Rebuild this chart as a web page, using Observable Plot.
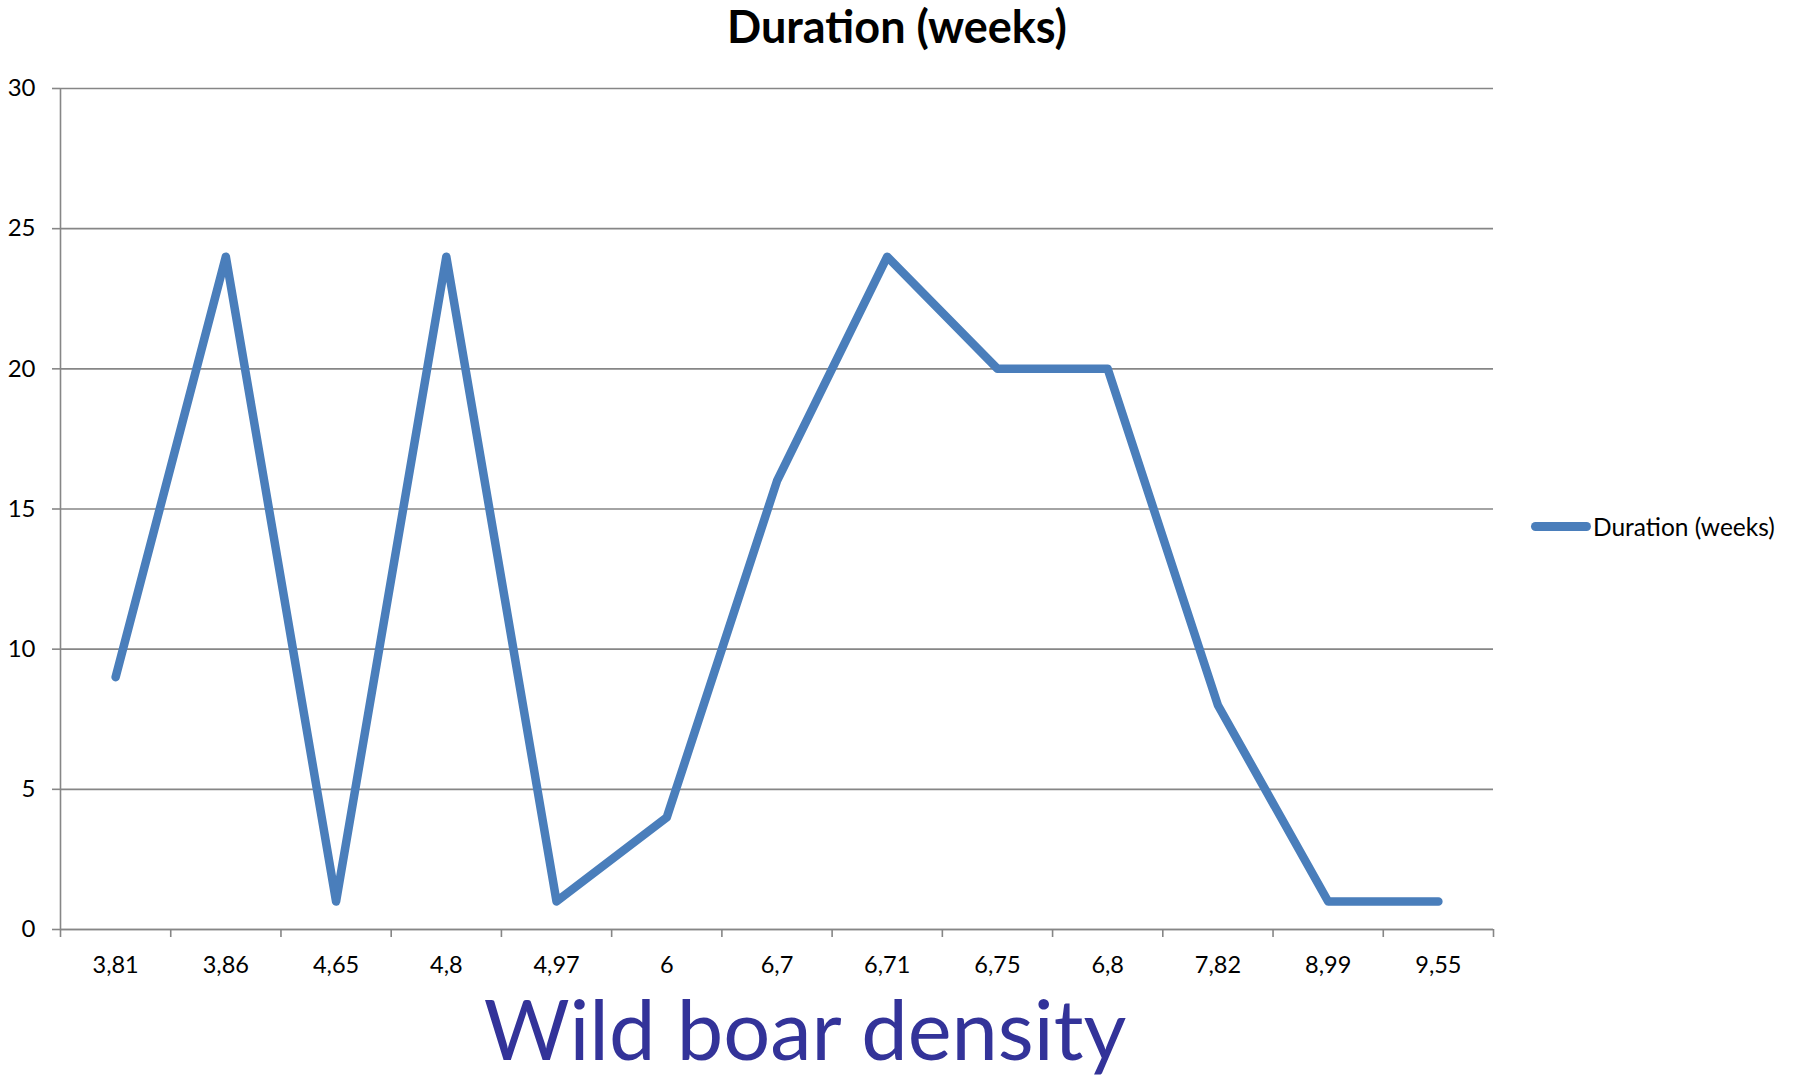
<!DOCTYPE html>
<html>
<head>
<meta charset="utf-8">
<script src="https://cdn.jsdelivr.net/npm/d3@7"></script>
<script src="https://cdn.jsdelivr.net/npm/@observablehq/plot@0.6"></script>
<style>
  html, body { margin: 0; padding: 0; background: #fff; }
  #wrap { position: relative; width: 1797px; height: 1085px; font-family: Lato, "Open Sans", sans-serif; overflow: hidden; }
  #title { position: absolute; left: 0; top: 0; width: 1797px; font-size: 45px; font-weight: bold; color: #000; line-height: 1; }
  #title span { position: absolute; left: 897px; top: 4px; transform: translateX(-50%); white-space: nowrap; }
  #xlabel { position: absolute; top: 987px; left: 805px; transform: translateX(-50%); font-size: 83px; color: #333399; white-space: nowrap; line-height: 1; }
  #legend { position: absolute; left: 1531px; top: 512px; display: flex; align-items: center; font-size: 24.5px; color: #000; white-space: nowrap; }
  #legend .sw { width: 60px; height: 9px; border-radius: 5px; background: #4A7EBB; margin-right: 2px; }
  #chart { position: absolute; left: 0; top: 0; }
</style>
</head>
<body>
<div id="wrap">
  <div id="chart"></div>
  <div id="title"><span>Duration (weeks)</span></div>
  <div id="legend"><div class="sw"></div><span>Duration (weeks)</span></div>
  <div id="xlabel">Wild boar density</div>
</div>
<script>
const categories = ["3,81", "3,86", "4,65", "4,8", "4,97", "6", "6,7", "6,71", "6,75", "6,8", "7,82", "8,99", "9,55"];
const durationWeeks = [9, 24, 1, 24, 1, 4, 16, 24, 20, 20, 8, 1, 1];
const yTicks = [0, 5, 10, 15, 20, 25, 30];

const idx = categories.map((_, i) => i);
const boundaries = d3.range(categories.length + 1).map(i => i - 0.5);
const data = durationWeeks.map((v, i) => ({i, v}));

const chart = Plot.plot({
  width: 1797,
  height: 1085,
  marginLeft: 60,
  marginRight: 304,
  marginTop: 88,
  marginBottom: 156,
  style: {fontFamily: "Lato, 'Open Sans', sans-serif", fontSize: "20px", color: "#000", background: "transparent"},
  x: {type: "linear", domain: [-0.5, categories.length - 0.5]},
  y: {domain: [0, 30]},
  marks: [
    Plot.gridY(yTicks, {stroke: "#868686", strokeOpacity: 1, strokeWidth: 1.6}),
    Plot.axisY(yTicks, {tickSize: 8, tickPadding: 17, stroke: "#868686", strokeWidth: 1.6, fontSize: 24, label: null, fill: "#000"}),
    Plot.ruleX([-0.5], {stroke: "#868686", strokeWidth: 1.6}),
    Plot.ruleY([0], {stroke: "#868686", strokeWidth: 1.6}),
    Plot.axisX(boundaries, {tickSize: 8, tickFormat: () => "", stroke: "#868686", strokeWidth: 1.6, label: null}),
    Plot.axisX(idx, {tickSize: 0, tickPadding: 27, tickFormat: i => categories[i], fontSize: 23.5, label: null, fill: "#000"}),
    Plot.line(data, {x: "i", y: "v", stroke: "#4A7EBB", strokeWidth: 8.5, strokeLinecap: "round", strokeLinejoin: "round"})
  ]
});
document.getElementById("chart").appendChild(chart);
</script>
</body>
</html>
